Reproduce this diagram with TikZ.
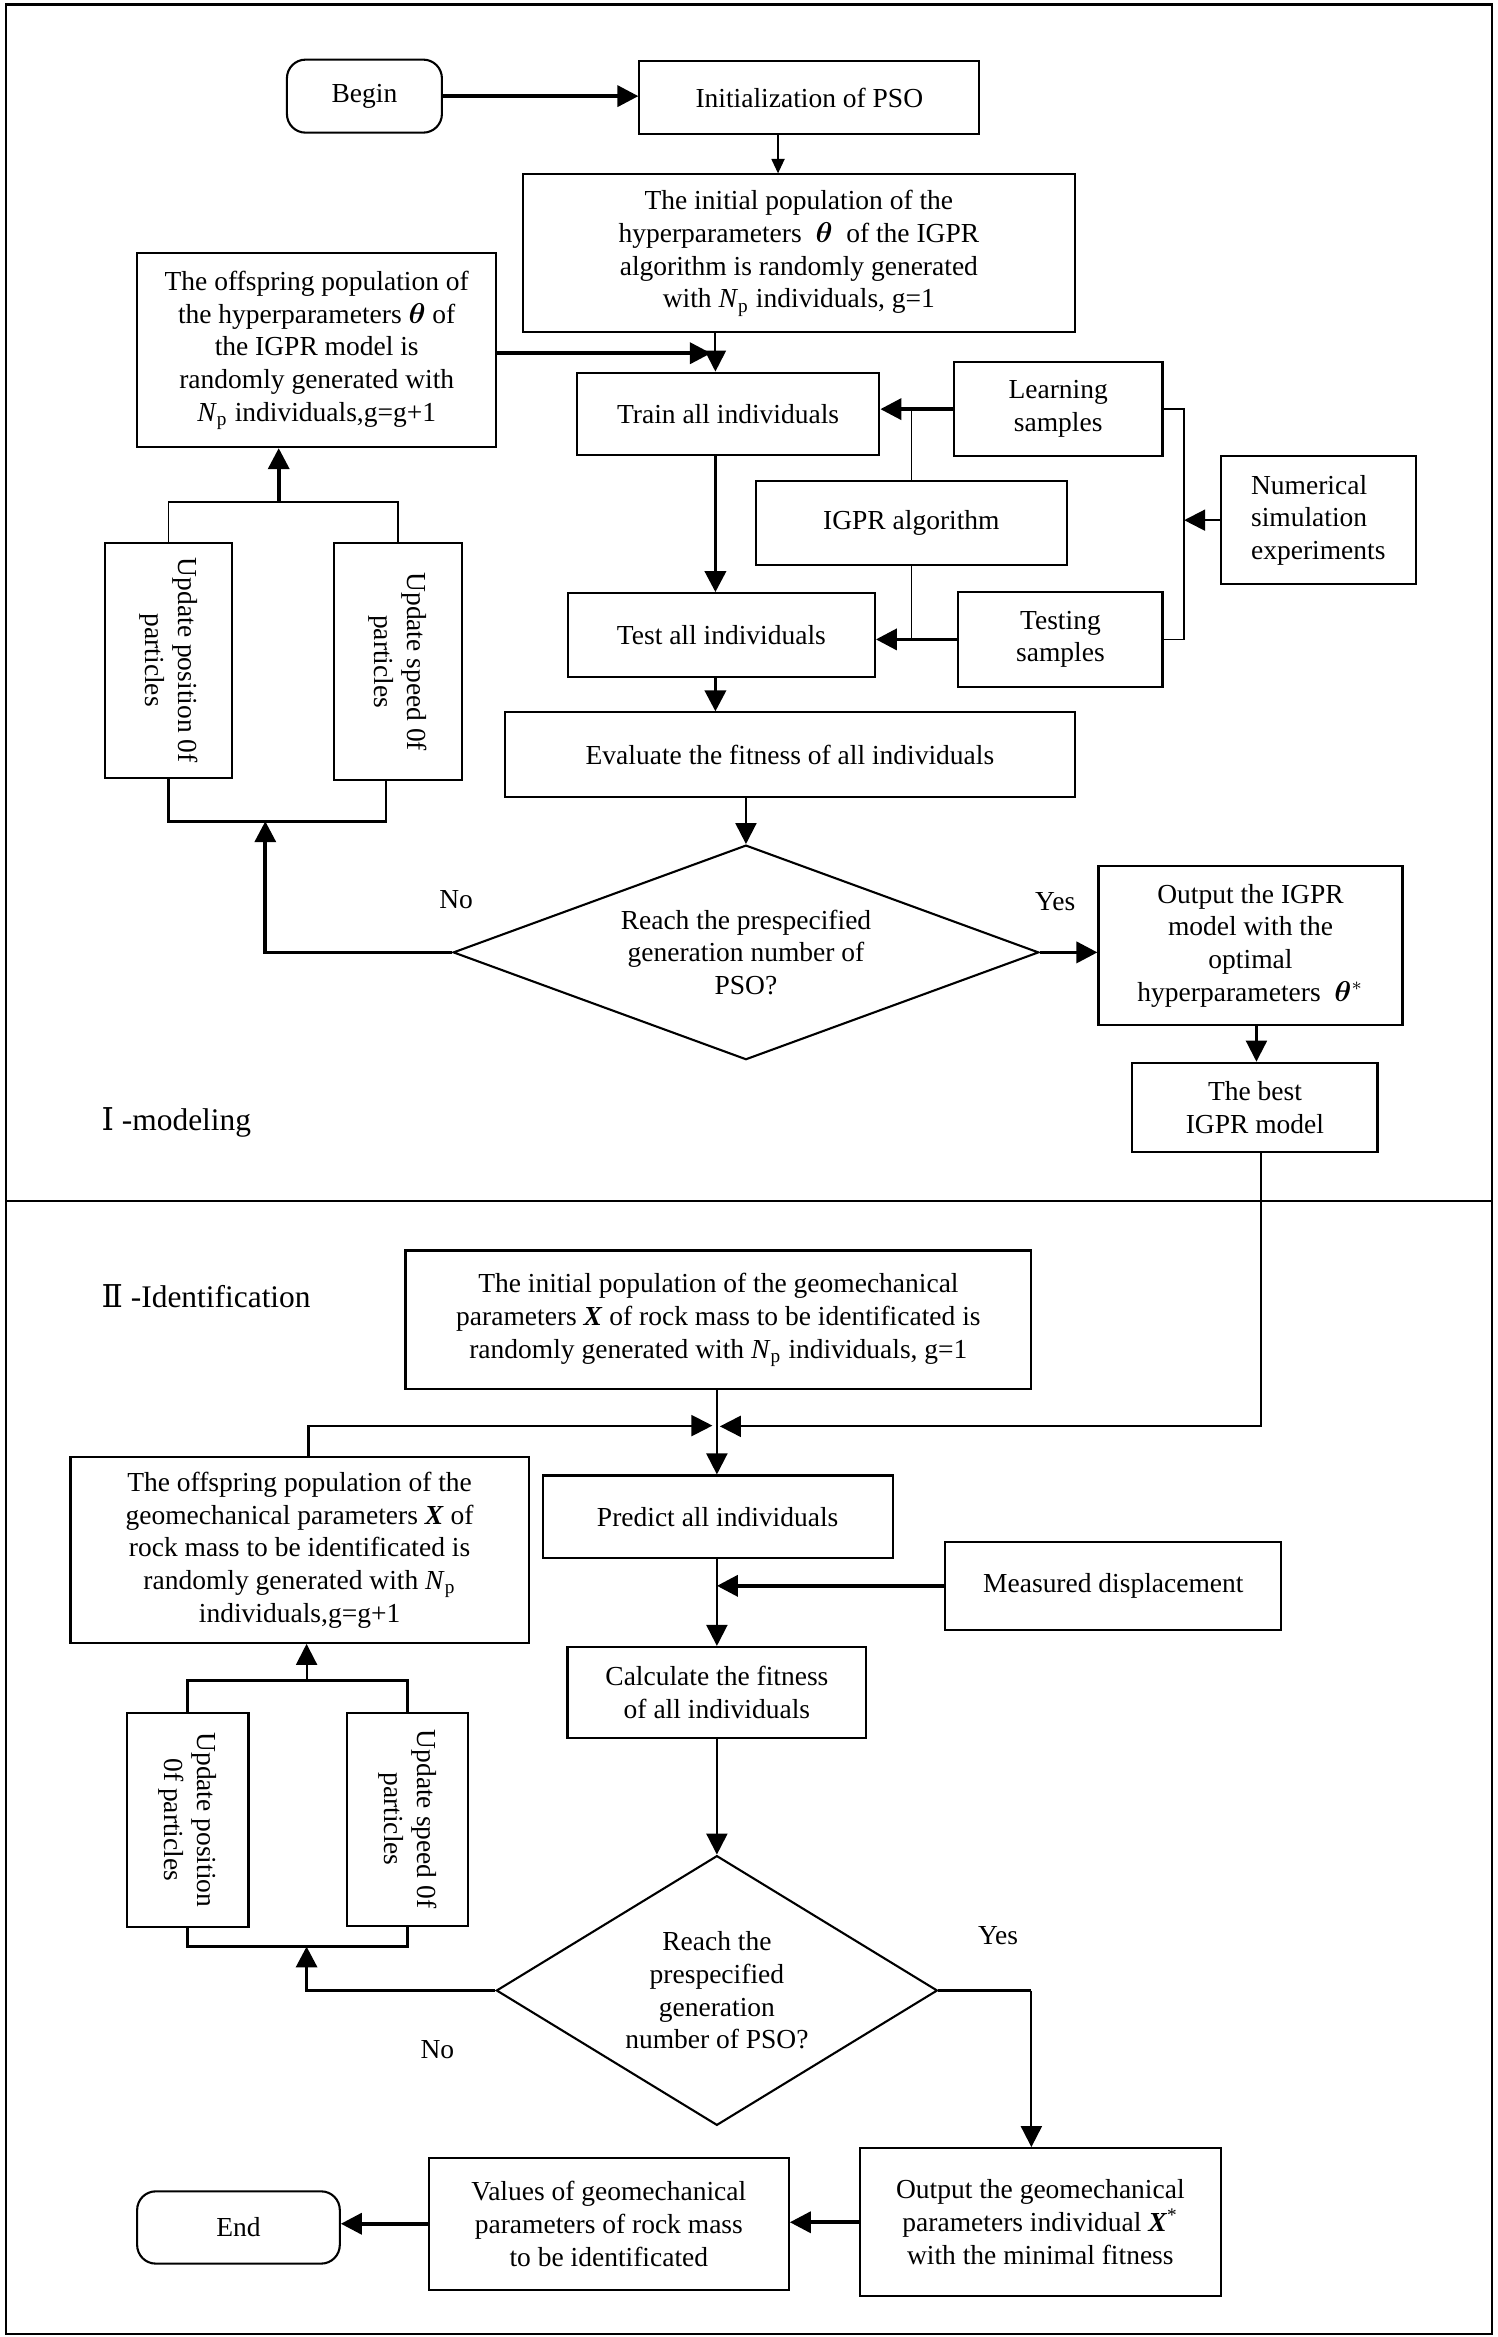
\documentclass[tikz,border=0pt]{standalone}
\usepackage{amsmath,bm}
\usepackage{fontspec}
\setmainfont{Liberation Serif}
\newfontfamily\numfont{DejaVu Serif}
\usetikzlibrary{shapes.geometric,arrows.meta,calc}

\tikzset{
  box/.style={rectangle, draw, line width=0.8pt, align=center, inner sep=2pt,
    font=\fontsize{10.5}{12.5}\selectfont},
  endbox/.style={box, rounded corners=2.5mm},
  rotbox/.style={box, rotate=-90},
  decision/.style={diamond, draw, line width=0.8pt, align=center, inner sep=0pt,
    font=\fontsize{10.5}{12.5}\selectfont},
  yesno/.style={font=\fontsize{10.5}{12.5}\selectfont},
  part/.style={anchor=west, font=\fontsize{12}{14}\selectfont},
  bigarrow/.style={-{Triangle[length=8pt,width=8pt]}, line width=1.4pt},
  medarrow/.style={-{Triangle[length=8pt,width=8pt]}, line width=0.8pt},
  thinarrow/.style={-{Triangle[length=5.5pt,width=5pt]}, line width=0.6pt},
  link/.style={line width=0.6pt}
}

\begin{document}
\begin{tikzpicture}[x=0.02cm, y=-0.02cm]
  \useasboundingbox (0,0) rectangle (1005,1568);
  % frame of the two parts
  \draw[line width=0.8pt] (4,3) rectangle (1001,1566);
  \draw[line width=0.8pt] (4,805.5) -- (1001,805.5);

  % I - modeling
  \node[endbox, minimum width=2.08cm, minimum height=0.98cm] (begin) at (244.5,64.5) {Begin};
  \node[box, minimum width=4.56cm, minimum height=0.98cm] (init) at (543,65.5) {Initialization of PSO};
  \node[box, minimum width=7.4cm, minimum height=2.12cm] (pop) at (536,170)
    {The initial population of the\\ hyperparameters \ $\bm{\theta}$ \ of the IGPR\\
     algorithm is randomly generated\\ with \textit{N}\textsubscript{p} individuals, g=1};
  \node[box, minimum width=4.82cm, minimum height=2.6cm] (offspring) at (212.5,235)
    {The offspring population of\\ the hyperparameters $\bm{\theta}$ of\\ the IGPR model is\\
     randomly generated with\\ \textit{N}\textsubscript{p} individuals,g=g+1};
  \node[box, minimum width=4.06cm, minimum height=1.1cm] (train) at (488.5,277.5) {Train all individuals};
  \node[box, minimum width=2.8cm, minimum height=1.26cm] (learn) at (710,274.5) {Learning\\ samples};
  \node[box, minimum width=4.18cm, minimum height=1.12cm] (igpr) at (611.5,351) {IGPR algorithm};
  \node[box, align=left, minimum width=2.62cm, minimum height=1.72cm] (numsim) at (884.5,349)
    {Numerical\\ simulation\\ experiments};
  \node[box, minimum width=2.74cm, minimum height=1.28cm] (testing) at (711.5,429) {Testing\\ samples};
  \node[box, minimum width=4.12cm, minimum height=1.12cm] (test) at (484,426) {Test all individuals};
  \node[box, minimum width=7.64cm, minimum height=1.14cm] (evaluate) at (530,506.5)
    {Evaluate the fitness of all individuals};
  \node[decision, aspect=2.7, minimum width=7.86cm, minimum height=2.88cm] (reach) at (500.5,639)
    {Reach the prespecified\\ generation number of\\ PSO?};
  \node[box, minimum width=4.08cm, minimum height=2.14cm] (output) at (839,634.5)
    {Output the IGPR\\ model with the\\ optimal\\ hyperparameters \ $\bm{\theta}^{*}$};
  \node[box, minimum width=3.29cm, minimum height=1.2cm] (best) at (842,743) {The best\\ IGPR model};
  \node[rotbox, minimum width=3.15cm, minimum height=1.71cm] (position) at (113,443)
    {Update position 0f\\ particles};
  \node[rotbox, minimum width=3.18cm, minimum height=1.71cm] (speed) at (267,444)
    {Update speed 0f\\ particles};
  \node[yesno] (no) at (306,603.5) {No};
  \node[yesno] (yes) at (708,605) {Yes};
  \node[part] (modeling) at (62,753) {{\numfont Ⅰ} -modeling};

  % II - identification
  \node[part] (identification) at (62,870) {{\numfont Ⅱ} -Identification};
  \node[box, minimum width=8.4cm, minimum height=1.86cm] (pop2) at (482,885.5)
    {The initial population of the geomechanical\\
     parameters \textbf{\textit{X}} of rock mass to be identificated is\\
     randomly generated with \textit{N}\textsubscript{p} individuals, g=1};
  \node[box, minimum width=6.15cm, minimum height=2.49cm] (offspring2) at (201,1040)
    {The offspring population of the\\ geomechanical parameters \textbf{\textit{X}} of\\
     rock mass to be identificated is\\ randomly generated with \textit{N}\textsubscript{p}\\
     individuals,g=g+1};
  \node[box, minimum width=4.7cm, minimum height=1.11cm] (predict) at (481.5,1017.7) {Predict all individuals};
  \node[box, minimum width=4.51cm, minimum height=1.18cm] (measured) at (747,1064) {Measured displacement};
  \node[box, minimum width=4.01cm, minimum height=1.22cm] (calc) at (481,1135.5)
    {Calculate the fitness\\ of all individuals};
  \node[decision, aspect=1.64, minimum width=5.92cm, minimum height=3.62cm] (reach2) at (481,1335.5)
    {Reach the\\ prespecified\\ generation\\ number of PSO?};
  \node[rotbox, minimum width=2.88cm, minimum height=1.63cm] (position2) at (126,1221)
    {Update position\\ 0f particles};
  \node[rotbox, minimum width=2.86cm, minimum height=1.62cm] (speed2) at (273.5,1220.5)
    {Update speed 0f\\ particles};
  \node[box, minimum width=4.85cm, minimum height=1.99cm] (output2) at (698,1491)
    {Output the geomechanical\\ parameters individual \textbf{\textit{X}}\textsuperscript{*}\\
     with the minimal fitness};
  \node[box, minimum width=4.83cm, minimum height=1.77cm] (values) at (408.5,1492)
    {Values of geomechanical\\ parameters of rock mass\\ to be identificated};
  \node[endbox, minimum width=2.72cm, minimum height=0.97cm] (finish) at (160,1494.5) {End};
  \node[yesno] (no2) at (293.5,1375) {No};
  \node[yesno] (yes2) at (669.6,1299) {Yes};

  % turning points
  \coordinate (col) at (480,0);
  \coordinate (col2) at (481,0);
  \coordinate (feed) at (477,237);
  \coordinate (side) at (794.5,0);
  \coordinate (nojoin) at (178,551);
  \coordinate (upjoin) at (187,337);
  \coordinate (merge) at (483,957);
  \coordinate (mergeL) at (478,956.5);
  \coordinate (nojoin2) at (205.7,1306);
  \coordinate (upjoin2) at (205.7,1127.6);
  \coordinate (yesturn) at (692,1335.5);

  % connectors, part I
  \draw[bigarrow] (begin.east) -- (begin.east -| init.west);
  \draw[thinarrow] ([xshift=-0.42cm]init.south) -- ([xshift=-0.42cm]init.south |- pop.north);
  \draw[medarrow] (col |- pop.south) -- (col |- train.north);
  \draw[bigarrow] (offspring.east |- feed) -- (feed);
  \draw[bigarrow] (learn.west) -- (learn.west -| train.east);
  \draw[link] (igpr.north) -- (igpr.north |- learn.west);
  \draw[link] (igpr.south) -- (igpr.south |- testing.west);
  \draw[link] (learn.east) -- (learn.east -| side) -- (testing.east -| side) -- (testing.east);
  \draw[medarrow] (numsim.west) -- (numsim.west -| side);
  \draw[bigarrow] (testing.west) -- (testing.west -| test.east);
  \draw[bigarrow] (col |- train.south) -- (col |- test.north);
  \draw[bigarrow] (col |- test.south) -- (col |- evaluate.north);
  \draw[medarrow] (reach.north |- evaluate.south) -- (reach.north);
  \draw[bigarrow] (reach.east) -- (reach.east -| output.west);
  \draw[medarrow] ([xshift=0.02cm]best.north |- output.south) -- ([xshift=0.02cm]best.north);
  \draw[bigarrow] (reach.west) -| (nojoin);
  \draw[line width=1pt] (position.east) |- (nojoin) -| ([xshift=-0.16cm]speed.east);
  \draw[link] (position.west) |- (upjoin) -| (speed.west);
  \draw[bigarrow] (upjoin) -- (upjoin |- offspring.south);

  % connectors, part II
  \draw[medarrow] ([xshift=0.08cm]best.south) |- (merge);
  \draw[medarrow] ([xshift=0.12cm]offspring2.north) |- (mergeL);
  \draw[medarrow] (col2 |- pop2.south) -- (col2 |- predict.north);
  \draw[bigarrow] (measured.west) -- (measured.west -| col2);
  \draw[medarrow] (col2 |- predict.south) -- (col2 |- calc.north);
  \draw[medarrow] (col2 |- calc.south) -- (reach2.north);
  \draw[line width=1.4pt] (reach2.east) -- (yesturn);
  \draw[medarrow] (yesturn) -- (yesturn |- output2.north);
  \draw[bigarrow] (reach2.west) -| (nojoin2);
  \draw[line width=1pt] (position2.east) |- (nojoin2) -| (speed2.east);
  \draw[line width=1pt] (position2.west) |- (upjoin2) -| (speed2.west);
  \draw[medarrow] (upjoin2) -- (upjoin2 |- offspring2.south);
  \draw[bigarrow] (output2.west) -- (output2.west -| values.east);
  \draw[bigarrow] (values.west) -- (values.west -| finish.east);
\end{tikzpicture}
\end{document}
